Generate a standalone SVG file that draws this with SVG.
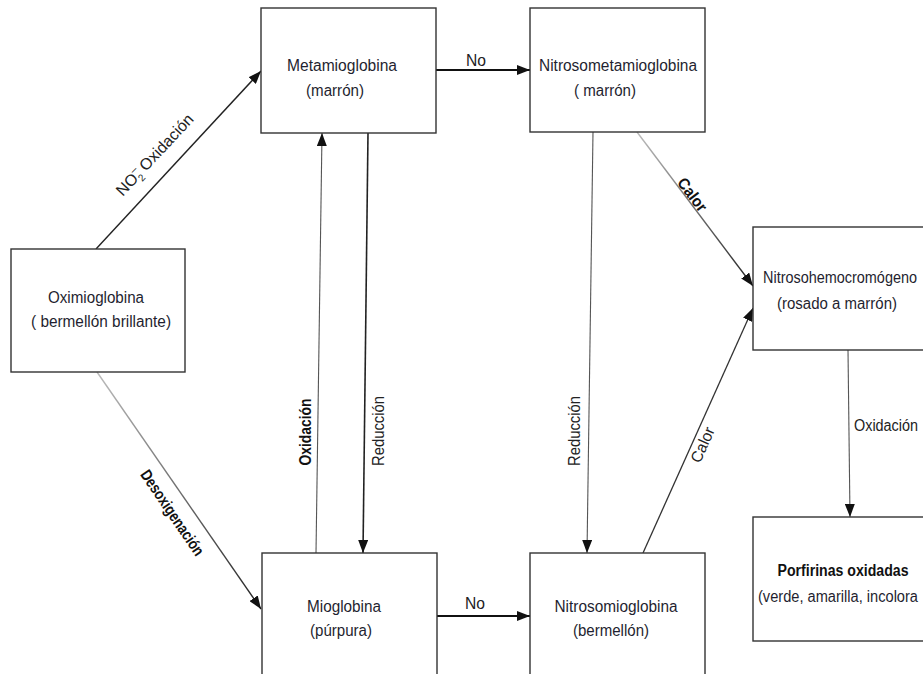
<svg xmlns="http://www.w3.org/2000/svg" width="923" height="674" viewBox="0 0 923 674">
<style>
.box{fill:#fff;stroke:#333;stroke-width:1.4}
.t{font-family:"Liberation Sans Narrow","Liberation Sans",Arial,sans-serif;font-size:16px;fill:#1f1f30;text-anchor:middle}
.lb{font-family:"Liberation Sans Narrow","Liberation Sans",Arial,sans-serif;font-size:16px;fill:#222;text-anchor:middle}
.bd{font-weight:bold;fill:#111}
.ln{fill:none;stroke:#222;stroke-width:1.4}
.thin{stroke:#555;stroke-width:1.1}
.thick{stroke-width:2.2;stroke:#111}
</style>
<defs>
<marker id="ah" markerUnits="userSpaceOnUse" markerWidth="14" markerHeight="10" refX="13" refY="5" orient="auto">
<path d="M0,0 L13,5 L0,10 z" fill="#111"/>
</marker>
<linearGradient id="g1" gradientUnits="userSpaceOnUse" x1="97" y1="372" x2="260" y2="608">
<stop offset="0" stop-color="#bbb"/><stop offset="1" stop-color="#222"/>
</linearGradient>
<linearGradient id="g2" gradientUnits="userSpaceOnUse" x1="637" y1="133" x2="752" y2="285">
<stop offset="0" stop-color="#bbb"/><stop offset="1" stop-color="#222"/>
</linearGradient>
</defs>

<g id="connectors">
<line class="ln" x1="96" y1="249" x2="261" y2="71" marker-end="url(#ah)"/>
<line class="ln thick" x1="436" y1="70" x2="530" y2="70" marker-end="url(#ah)"/>
<line class="ln" x1="97" y1="372" x2="261" y2="609" style="stroke:url(#g1)" marker-end="url(#ah)"/>
<line class="ln thin" x1="316" y1="553" x2="322" y2="133" marker-end="url(#ah)"/>
<line class="ln" x1="368" y1="133" x2="363" y2="553" style="stroke-width:1.6" marker-end="url(#ah)"/>
<line class="ln thick" x1="437" y1="616" x2="530" y2="616" marker-end="url(#ah)"/>
<line class="ln thin" x1="593" y1="132" x2="587" y2="553" marker-end="url(#ah)"/>
<line class="ln" x1="637" y1="132" x2="753" y2="286" style="stroke:url(#g2)" marker-end="url(#ah)"/>
<line class="ln" x1="643" y1="553" x2="753" y2="308" style="stroke:#333;stroke-width:1.3" marker-end="url(#ah)"/>
<line class="ln thin" x1="848" y1="350" x2="850" y2="517" marker-end="url(#ah)"/>

<text class="lb" transform="translate(155,155) rotate(-47)" y="5"><tspan>NO</tspan><tspan font-size="11" dy="-7">–</tspan><tspan font-size="10" dx="-6" dy="11">2</tspan><tspan dy="-4"> Oxidación</tspan></text>
<text class="lb" x="476" y="66" textLength="20" lengthAdjust="spacingAndGlyphs">No</text>
<text class="lb bd" transform="translate(172,513) rotate(55.8)" y="5" textLength="100" lengthAdjust="spacingAndGlyphs">Desoxigenación</text>
<text class="lb bd" transform="translate(306,432) rotate(-90)" y="5" textLength="67" lengthAdjust="spacingAndGlyphs">Oxidación</text>
<text class="lb" transform="translate(379,431) rotate(-90)" y="5" textLength="70" lengthAdjust="spacingAndGlyphs">Reducción</text>
<text class="lb" x="475" y="609" textLength="20" lengthAdjust="spacingAndGlyphs">No</text>
<text class="lb" transform="translate(575,431) rotate(-90)" y="5" textLength="70" lengthAdjust="spacingAndGlyphs">Reducción</text>
<text class="lb bd" transform="translate(692,195) rotate(53)" y="5" textLength="38" lengthAdjust="spacingAndGlyphs">Calor</text>
<text class="lb" transform="translate(703,445) rotate(-66)" y="5" textLength="37" lengthAdjust="spacingAndGlyphs">Calor</text>
<text class="lb" x="886" y="431" textLength="64" lengthAdjust="spacingAndGlyphs">Oxidación</text>
</g>

<g id="oximioglobina">
<rect class="box" x="11" y="249" width="174" height="123"/>
<text class="t" x="96" y="303" textLength="96" lengthAdjust="spacingAndGlyphs">Oximioglobina</text>
<text class="t" x="101" y="327" textLength="140" lengthAdjust="spacingAndGlyphs">( bermellón brillante)</text>
</g>
<g id="metamioglobina">
<rect class="box" x="261" y="8" width="175" height="125"/>
<text class="t" x="342" y="71" textLength="110" lengthAdjust="spacingAndGlyphs">Metamioglobina</text>
<text class="t" x="335" y="96" textLength="58" lengthAdjust="spacingAndGlyphs">(marrón)</text>
</g>
<g id="nitrosometamioglobina">
<rect class="box" x="530" y="8" width="175" height="124"/>
<text class="t" x="618" y="71" textLength="158" lengthAdjust="spacingAndGlyphs">Nitrosometamioglobina</text>
<text class="t" x="605" y="96" textLength="62" lengthAdjust="spacingAndGlyphs">( marrón)</text>
</g>
<g id="nitrosohemocromogeno">
<rect class="box" x="753" y="227" width="180" height="123"/>
<text class="t" x="840" y="283" textLength="154" lengthAdjust="spacingAndGlyphs">Nitrosohemocromógeno</text>
<text class="t" x="837" y="309" textLength="120" lengthAdjust="spacingAndGlyphs">(rosado a marrón)</text>
</g>
<g id="porfirinas">
<rect class="box" x="753" y="517" width="180" height="124"/>
<text class="t bd" x="843" y="576" textLength="131" lengthAdjust="spacingAndGlyphs">Porfirinas oxidadas</text>
<text class="t" x="838" y="602" textLength="160" lengthAdjust="spacingAndGlyphs">(verde, amarilla, incolora</text>
</g>
<g id="mioglobina">
<rect class="box" x="262" y="553" width="175" height="130"/>
<text class="t" x="344" y="612" textLength="74" lengthAdjust="spacingAndGlyphs">Mioglobina</text>
<text class="t" x="341" y="636" textLength="62" lengthAdjust="spacingAndGlyphs">(púrpura)</text>
</g>
<g id="nitrosomioglobina">
<rect class="box" x="530" y="553" width="175" height="130"/>
<text class="t" x="616" y="612" textLength="123" lengthAdjust="spacingAndGlyphs">Nitrosomioglobina</text>
<text class="t" x="611" y="636" textLength="76" lengthAdjust="spacingAndGlyphs">(bermellón)</text>
</g>
</svg>
